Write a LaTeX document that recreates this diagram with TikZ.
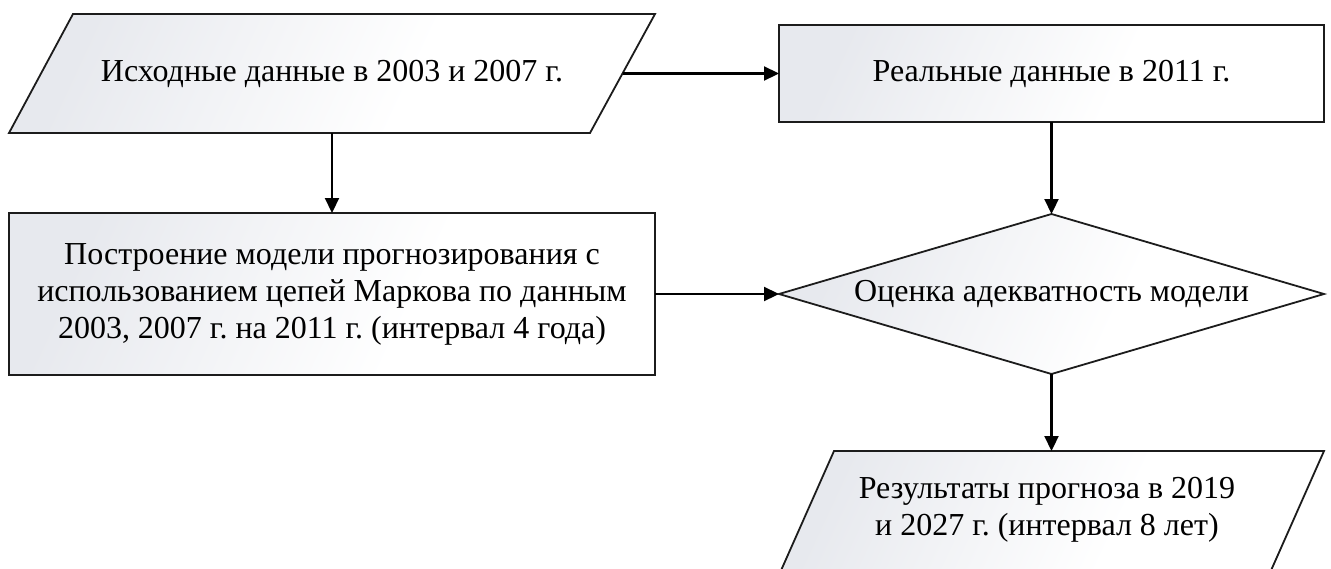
\documentclass[tikz,border=0pt]{standalone}
\usepackage{fontspec}
\setmainfont{Liberation Serif}
\usetikzlibrary{shapes.geometric, arrows.meta}
\definecolor{boxgrey}{RGB}{231,233,238}
\definecolor{edge}{RGB}{28,28,28}
% grey on the upper left fading to white; the path box maps to 25bp..75bp
\pgfdeclarehorizontalshading{softfill}{100bp}{color(0bp)=(boxgrey); color(25bp)=(boxgrey); color(58bp)=(white); color(100bp)=(white)}

\begin{document}
\frenchspacing
\begin{tikzpicture}[x=1pt, y=-1pt,
  every node/.style={font=\fontsize{32}{37}\selectfont, align=center, inner sep=0pt, outer sep=0pt},
  box/.style={draw=edge, line width=1.8pt, shade, shading=softfill, shading angle=-25},
  procbox/.style={box, rectangle},
  decbox/.style={box, diamond, aspect=3.4},
  label/.style={rectangle},
  flow/.style={draw=black, line width=2.2pt, -{Triangle[length=15pt,width=14pt]}}]

\useasboundingbox (0,0) rectangle (1331,568);
\clip (0,0) rectangle (1331,568);

% data blocks (parallelograms), drawn under their text
\path[box] (73,14) -- (655,14) -- (590,133) -- (9,133) -- cycle;
\path[box] (834,451) -- (1324,451) -- (1265,584) -- (775,584) -- cycle;

% blocks
\node[label, minimum width=646pt, minimum height=119pt] (src) at (332,73.5)
      {Исходные данные в 2003 и 2007 г.};
\coordinate (src-out) at (622.5,73.5);
\node[procbox, minimum width=545pt, minimum height=97pt] (real) at (1051.5,73.5)
      {Реальные данные в 2011 г.};
\node[procbox, minimum width=646pt, minimum height=162pt] (model) at (332,294)
      {Построение модели прогнозирования с\\использованием цепей Маркова по данным\\2003, 2007 г. на 2011 г. (интервал 4 года)};
\node[decbox, minimum width=545pt, minimum height=160pt] (check) at (1051.5,294)
      {Оценка адекватность модели};
\node[label, minimum height=118pt] (result) at (1047,510)
      {Результаты прогноза в 2019\\и 2027 г. (интервал 8 лет)};

% connectors
\draw[flow] (src-out) -- (real.west);
\draw[flow] (src.south) -- (model.north);
\draw[flow] (model.east) -- (check.west);
\draw[flow] (real.south) -- (check.north);
\draw[flow] (check.south) -- (check.south |- result.north);
\end{tikzpicture}
\end{document}
